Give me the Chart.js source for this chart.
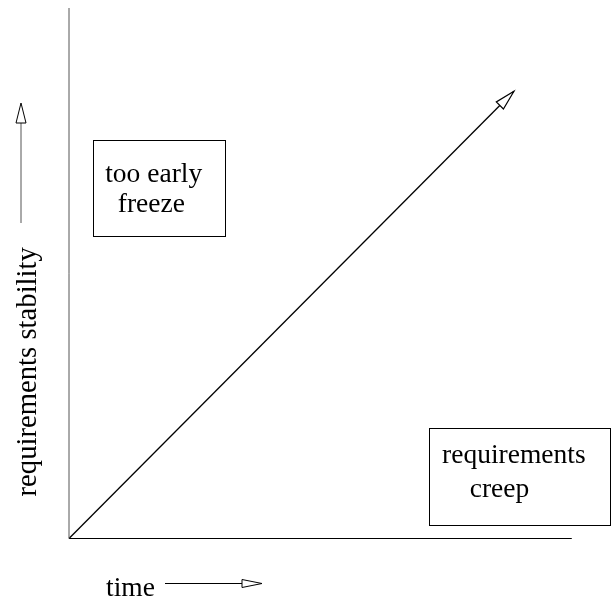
<!DOCTYPE html>
<html>
<head>
<meta charset="utf-8">
<script src="https://cdn.jsdelivr.net/npm/chart.js@4"></script>
<style>
  html, body { margin: 0; padding: 0; background: #fff; }
  #wrap { width: 612px; height: 599px; }
</style>
</head>
<body>
<div id="wrap"><canvas id="c" width="612" height="599"></canvas></div>
<script>
// axis extents (data units)
const axisXEnd = 10;
const axisYEnd = 10;
const xMax = 10.78;

// the diagonal trend arrow
const trendX = [0, 8.85];
const trendY = [0, 8.43];

// boxes: [x0, x1], [y0, y1]
const boxLabels = [['too early', 'freeze'], ['requirements', 'creep']];
const boxX = [[0.48, 3.10], [7.16, 10.76]];
const boxY = [[5.70, 7.51], [0.26, 2.08]];
// left edge + baseline of each text line inside the boxes
const labelX = [[0.72, 0.97], [7.42, 7.97]];
const labelY = [[6.72, 6.15], [1.42, 0.78]];

const xTitle = 'time';
const yTitle = 'requirements stability';

const FONT = '27.5px "Liberation Serif", "Times New Roman", serif';
const YFONT = '28.7px "Liberation Serif", "Times New Roman", serif';

function arrowHead(ctx, tx, ty, ang, len = 20, half = 5) {
    const bx = tx - Math.cos(ang) * len;
    const by = ty - Math.sin(ang) * len;
    const nx = -Math.sin(ang) * half;
    const ny = Math.cos(ang) * half;
    ctx.save();
    ctx.beginPath();
    ctx.moveTo(tx, ty);
    ctx.lineTo(bx + nx, by + ny);
    ctx.lineTo(bx - nx, by - ny);
    ctx.closePath();
    ctx.fillStyle = '#fff';
    ctx.fill();
    ctx.stroke();
    ctx.restore();
}

const notes = {
    id: 'notes',
    afterDatasetsDraw(chart) {
        const { ctx, chartArea, scales: { x, y } } = chart;
        ctx.save();
        ctx.lineWidth = 1;
        ctx.strokeStyle = '#000';
        ctx.fillStyle = '#000';
        ctx.font = FONT;
        ctx.textAlign = 'left';
        ctx.textBaseline = 'alphabetic';

        // boxes and their text
        boxLabels.forEach((lines, i) => {
            const x0 = Math.round(x.getPixelForValue(boxX[i][0])) + 0.5;
            const x1 = Math.round(x.getPixelForValue(boxX[i][1])) + 0.5;
            const y0 = Math.round(y.getPixelForValue(boxY[i][1])) + 0.5;
            const y1 = Math.round(y.getPixelForValue(boxY[i][0])) + 0.5;
            ctx.strokeRect(x0, y0, x1 - x0, y1 - y0);
            lines.forEach((t, j) => {
                ctx.fillText(t, x.getPixelForValue(labelX[i][j]), y.getPixelForValue(labelY[i][j]));
            });
        });

        // head of the trend arrow
        const tx = x.getPixelForValue(trendX[1]);
        const ty = y.getPixelForValue(trendY[1]);
        const px = x.getPixelForValue(trendX[0]);
        const py = y.getPixelForValue(trendY[0]);
        ctx.lineWidth = 1.2;
        arrowHead(ctx, tx, ty, Math.atan2(ty - py, tx - px));
        ctx.lineWidth = 1;

        // x title with arrow
        ctx.fillText(xTitle, chartArea.left + 37, chartArea.bottom + 57);
        ctx.beginPath();
        ctx.moveTo(chartArea.left + 96, chartArea.bottom + 45);
        ctx.lineTo(chartArea.left + 175, chartArea.bottom + 45);
        ctx.stroke();
        arrowHead(ctx, chartArea.left + 193, chartArea.bottom + 45, 0, 20, 4);

        // y title with arrow
        ctx.save();
        ctx.font = YFONT;
        ctx.translate(chartArea.left - 33, chartArea.bottom - 42);
        ctx.rotate(-Math.PI / 2);
        ctx.fillText(yTitle, 0, 0);
        ctx.restore();
        ctx.strokeStyle = '#555';
        ctx.beginPath();
        ctx.moveTo(21, 223);
        ctx.lineTo(21, 123);
        ctx.stroke();
        ctx.strokeStyle = '#000';
        arrowHead(ctx, 21, 103, -Math.PI / 2);

        ctx.restore();
    }
};

new Chart(document.getElementById('c'), {
    type: 'line',
    data: {
        datasets: [
            {   // vertical axis
                data: [{ x: 0, y: 0 }, { x: 0, y: axisYEnd }],
                borderColor: '#555',
                borderWidth: 1
            },
            {   // horizontal axis
                data: [{ x: 0, y: 0 }, { x: axisXEnd, y: 0 }],
                borderColor: '#000',
                borderWidth: 1
            },
            {   // trend
                data: trendX.map((v, i) => ({ x: v, y: trendY[i] })),
                borderColor: '#000',
                borderWidth: 1.3
            }
        ]
    },
    options: {
        responsive: false,
        animation: false,
        events: [],
        layout: { padding: { left: 69, right: 1, top: 8, bottom: 60.5 } },
        elements: { point: { radius: 0 }, line: { tension: 0 } },
        datasets: { line: { clip: false } },
        plugins: { legend: { display: false }, tooltip: { enabled: false } },
        scales: {
            x: { type: 'linear', min: 0, max: xMax, display: false },
            y: { type: 'linear', min: 0, max: axisYEnd, display: false }
        }
    },
    plugins: [notes]
});
</script>
</body>
</html>
